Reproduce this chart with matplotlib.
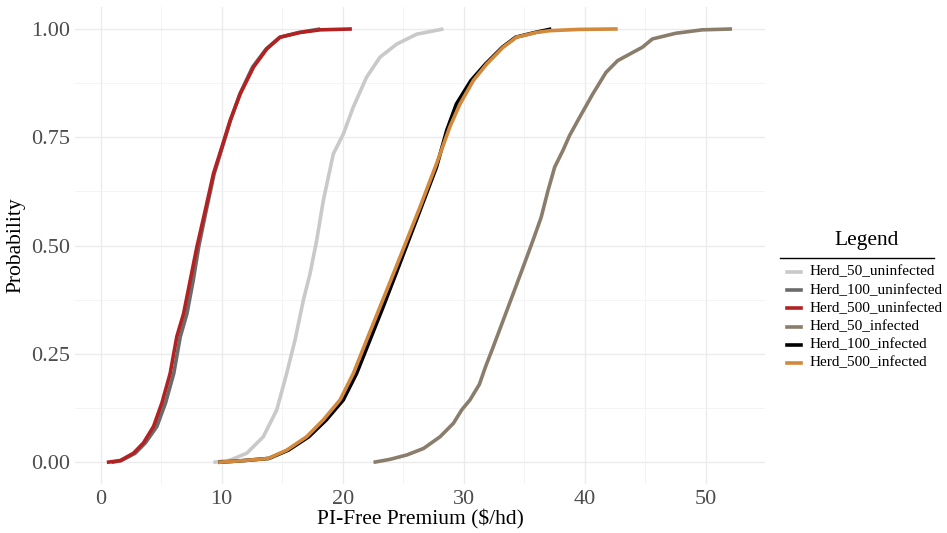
import matplotlib
matplotlib.use("Agg")
import matplotlib.pyplot as plt
from matplotlib.lines import Line2D
from matplotlib.ticker import MultipleLocator

plt.rcParams['font.family'] = ['Liberation Serif', 'DejaVu Serif']

series_names = ["Herd_50_uninfected", "Herd_100_uninfected", "Herd_500_uninfected",
                "Herd_50_infected", "Herd_100_infected", "Herd_500_infected"]
series_colors = ["#C9C9C9", "#6B6B6B", "#B22222", "#8B7D6B", "#000000", "#D2893C"]

# ECDFs: premium ($/hd) and cumulative probability
h50u_x = [9.31, 10.69, 12.07, 13.44, 14.55, 15.37, 16.06, 16.75, 17.30, 17.85, 18.40,
          19.23, 20.06, 20.88, 21.98, 23.09, 24.46, 26.12, 28.32]
h50u_p = [0.0, 0.005, 0.021, 0.059, 0.121, 0.205, 0.282, 0.374, 0.435, 0.512, 0.604,
          0.712, 0.758, 0.82, 0.889, 0.935, 0.965, 0.988, 1.0]

h100u_x = [0.9, 1.7, 2.85, 3.7, 4.65, 5.36, 6.04, 6.58, 7.13, 7.65, 8.1, 8.72, 9.38,
           10.05, 10.73, 11.5, 12.55, 13.68, 14.8, 16.4, 18.14]
h100u_p = [0.0, 0.004, 0.021, 0.045, 0.083, 0.137, 0.205, 0.29, 0.343, 0.42, 0.497,
           0.581, 0.666, 0.727, 0.789, 0.85, 0.912, 0.954, 0.981, 0.992, 1.0]

h500u_x = [0.51, 1.61, 2.71, 3.54, 4.37, 5.06, 5.74, 6.29, 6.85, 7.40, 7.95, 8.64, 9.32,
           10.01, 10.70, 11.53, 12.63, 13.73, 14.83, 16.49, 18.14, 20.76]
h500u_p = [0.0, 0.004, 0.021, 0.045, 0.083, 0.137, 0.205, 0.29, 0.343, 0.42, 0.497, 0.581,
           0.666, 0.727, 0.789, 0.85, 0.912, 0.954, 0.981, 0.992, 0.998, 1.0]

h50i_x = [22.55, 23.93, 25.30, 26.68, 28.05, 29.15, 29.84, 30.52, 31.3, 31.8, 32.45,
          33.27, 34.09, 34.92, 35.7, 36.4, 36.97, 37.52, 38.21, 38.75, 39.58, 40.67,
          41.77, 42.73, 44.78, 45.6, 47.52, 49.71, 52.18]
h50i_p = [0.0, 0.007, 0.017, 0.032, 0.059, 0.09, 0.121, 0.144, 0.18, 0.22, 0.267,
          0.328, 0.389, 0.451, 0.51, 0.565, 0.627, 0.681, 0.72, 0.754, 0.796, 0.85,
          0.9, 0.927, 0.958, 0.977, 0.99, 0.998, 1.0]

h100i_x = [9.72, 11.79, 13.9, 15.5, 17.2, 18.65, 20.05, 21.15, 22.25, 23.35, 24.4,
           25.45, 26.5, 27.75, 28.6, 29.4, 30.6, 31.8, 33.2, 34.3, 35.9, 37.25]
h100i_p = [0.0, 0.004, 0.009, 0.028, 0.059, 0.098, 0.144, 0.205, 0.282, 0.359, 0.435,
           0.512, 0.589, 0.681, 0.766, 0.827, 0.881, 0.919, 0.958, 0.981, 0.992, 1.0]

h500i_x = [9.72, 11.79, 13.86, 15.37, 17.02, 18.40, 19.78, 20.88, 21.98, 23.09, 24.19,
           25.29, 26.39, 27.77, 28.87, 29.70, 30.80, 31.90, 33.27, 34.37, 36.02, 37.1,
           39.5, 42.73]
h500i_p = [0.0, 0.004, 0.009, 0.028, 0.059, 0.098, 0.144, 0.205, 0.282, 0.359, 0.435,
           0.512, 0.589, 0.69, 0.775, 0.827, 0.881, 0.919, 0.958, 0.981, 0.992, 0.996,
           0.999, 1.0]

series_x = [h50u_x, h100u_x, h500u_x, h50i_x, h100i_x, h500i_x]
series_p = [h50u_p, h100u_p, h500u_p, h50i_p, h100i_p, h500i_p]

x_ticks = [0, 10, 20, 30, 40, 50]
y_ticks = [0.0, 0.25, 0.5, 0.75, 1.0]
y_tick_labels = ["0.00", "0.25", "0.50", "0.75", "1.00"]

W, H = 947, 533
fig = plt.figure(figsize=(W / 100, H / 100), dpi=100)
ax = fig.add_axes([75.4 / W, (H - 484) / H, (765.3 - 75.4) / W, (484 - 7.3) / H])

for xs, ps, c in zip(series_x, series_p, series_colors):
    ax.plot(xs, ps, color=c, lw=2.6, solid_capstyle='butt', solid_joinstyle='round')

ax.set_xlim(-2.09, 54.93)
ax.set_ylim(-0.05, 1.05)
ax.set_xticks(x_ticks)
ax.set_yticks(y_ticks)
ax.set_yticklabels(y_tick_labels)
ax.xaxis.set_minor_locator(MultipleLocator(5))
ax.yaxis.set_minor_locator(MultipleLocator(0.125))
ax.grid(True, which='major', color='#EBEBEB', lw=1.0)
ax.grid(True, which='minor', color='#F2F2F2', lw=0.6)
ax.set_axisbelow(True)
for s in ax.spines.values():
    s.set_visible(False)
ax.tick_params(which='both', length=0)
ax.tick_params(axis='both', labelsize=16, labelcolor='#4D4D4D')
ax.tick_params(axis='y', pad=4)
ax.tick_params(axis='x', pad=4)
ax.set_xlabel("PI-Free Premium ($/hd)", fontsize=15.5, labelpad=1)
ax.set_ylabel("Probability", fontsize=15.5, labelpad=4)

# legend
def fx(px):
    return px / W

def fy(py):
    return 1 - py / H

fig.text(fx(867), fy(241), "Legend", fontsize=15.5, ha='center', va='center')
fig.add_artist(Line2D([fx(780), fx(934)], [fy(257.5), fy(257.5)], color='black', lw=1.0))
for i, (name, c) in enumerate(zip(series_names, series_colors)):
    y = 272 + i * 18.2
    fig.add_artist(Line2D([fx(787), fx(801)], [fy(y), fy(y)], color=c, lw=2.6))
    fig.text(fx(810), fy(y), name, fontsize=11, ha='left', va='center')

fig.savefig("out.png", dpi=100)
